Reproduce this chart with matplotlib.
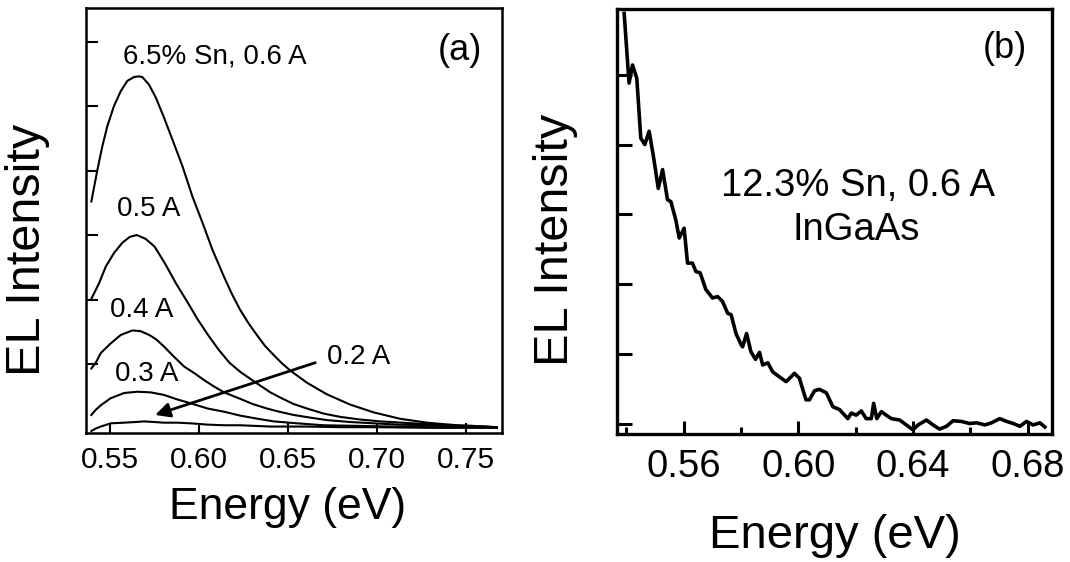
import matplotlib
matplotlib.use("Agg")
import matplotlib.pyplot as plt
from matplotlib.ticker import FormatStrFormatter

plt.rcParams['font.family'] = ['Liberation Sans', 'DejaVu Sans']

# ---------------- (a) 6.5% Sn, EL spectra at several drive currents ----------------
e_06 = [0.5395, 0.5429, 0.5457, 0.5485, 0.5522, 0.5560, 0.5597, 0.5635, 0.5660, 0.5681,
        0.5719, 0.5757, 0.5803, 0.5850, 0.5906, 0.5962, 0.6019, 0.6075, 0.6140, 0.6185,
        0.6230, 0.6280, 0.6324, 0.6370, 0.6418, 0.6465, 0.6511, 0.6605, 0.6717, 0.6848,
        0.6979, 0.7129, 0.7279, 0.7448, 0.7670]
i_06 = [3.52, 4.01, 4.38, 4.69, 5.00, 5.23, 5.39, 5.45, 5.46, 5.45,
        5.33, 5.13, 4.82, 4.48, 4.07, 3.60, 3.19, 2.77, 2.35, 2.08,
        1.84, 1.62, 1.45, 1.28, 1.14, 1.01, 0.90, 0.71, 0.53, 0.37,
        0.25, 0.15, 0.09, 0.05, 0.02]

e_05 = [0.5395, 0.5438, 0.5476, 0.5522, 0.5569, 0.5610, 0.5650, 0.5700, 0.5750, 0.5810,
        0.5870, 0.5930, 0.5990, 0.6050, 0.6110, 0.6170, 0.6230, 0.6324, 0.6400, 0.6455,
        0.6530, 0.6605, 0.6700, 0.6792, 0.6900, 0.7017, 0.7140, 0.7260, 0.7400, 0.7540,
        0.7670]
i_05 = [2.01, 2.25, 2.51, 2.72, 2.88, 2.97, 3.00, 2.94, 2.82, 2.55,
        2.25, 1.98, 1.70, 1.45, 1.22, 1.02, 0.88, 0.70, 0.56, 0.48,
        0.38, 0.31, 0.23, 0.18, 0.14, 0.11, 0.09, 0.07, 0.05, 0.04,
        0.02]

e_04 = [0.5395, 0.5420, 0.5448, 0.5504, 0.5560, 0.5625, 0.5670, 0.5720, 0.5760, 0.5803,
        0.5860, 0.5916, 0.5972, 0.6028, 0.6084, 0.6140, 0.6230, 0.6300, 0.6380, 0.6450,
        0.6530, 0.6620, 0.6717, 0.6850, 0.6979, 0.7120, 0.7260, 0.7400, 0.7540, 0.7670]
i_04 = [0.93, 1.02, 1.17, 1.32, 1.45, 1.52, 1.51, 1.45, 1.38, 1.27,
        1.11, 0.96, 0.86, 0.75, 0.65, 0.56, 0.46, 0.38, 0.31, 0.26,
        0.21, 0.17, 0.13, 0.10, 0.08, 0.06, 0.05, 0.04, 0.03, 0.02]

e_03 = [0.5395, 0.5420, 0.5448, 0.5504, 0.5579, 0.5653, 0.5728, 0.5803, 0.5878, 0.5953,
        0.6047, 0.6140, 0.6230, 0.6330, 0.6418, 0.6550, 0.6700, 0.6900, 0.7073, 0.7300,
        0.7540, 0.7670]
i_03 = [0.21, 0.29, 0.36, 0.47, 0.55, 0.57, 0.56, 0.52, 0.45, 0.39,
        0.31, 0.26, 0.20, 0.15, 0.11, 0.08, 0.05, 0.04, 0.03, 0.02,
        0.02, 0.01]

e_02 = [0.5395, 0.5420, 0.5448, 0.5504, 0.5579, 0.5640, 0.5691, 0.5750, 0.5803, 0.5878,
        0.5953, 0.6047, 0.6140, 0.6230, 0.6400, 0.6600, 0.6800, 0.7000, 0.7300, 0.7670]
i_02 = [-0.04, 0.00, 0.03, 0.08, 0.09, 0.10, 0.11, 0.10, 0.09, 0.09,
        0.08, 0.06, 0.05, 0.05, 0.03, 0.03, 0.02, 0.02, 0.01, 0.01]

ticks_a = [0.55, 0.60, 0.65, 0.70, 0.75]

# ---------------- (b) 12.3% Sn, InGaAs, 0.6 A ----------------
e_b = [0.5393, 0.5410, 0.5422, 0.5437, 0.5451, 0.5465, 0.5480, 0.5495, 0.5512, 0.5527,
       0.5544, 0.5556, 0.5573, 0.5585, 0.5602, 0.5614, 0.5631, 0.5643, 0.5658, 0.5678,
       0.5701, 0.5719, 0.5736, 0.5754, 0.5766, 0.5783, 0.5801, 0.5806, 0.5820, 0.5835,
       0.5851, 0.5865, 0.5876, 0.5894, 0.5911, 0.5934, 0.5958, 0.5987, 0.6004, 0.6027,
       0.6039, 0.6057, 0.6074, 0.6098, 0.6121, 0.6144, 0.6173, 0.6185, 0.6202, 0.6220,
       0.6237, 0.6255, 0.6263, 0.6274, 0.6290, 0.6307, 0.6325, 0.6354, 0.6377, 0.6400,
       0.6418, 0.6447, 0.6470, 0.6493, 0.6517, 0.6540, 0.6569, 0.6598, 0.6622, 0.6651,
       0.6674, 0.6703, 0.6727, 0.6750, 0.6773, 0.6796, 0.6819, 0.6843, 0.6860]
i_b = [5.88, 4.88, 5.14, 4.95, 4.09, 4.00, 4.19, 3.83, 3.37, 3.64,
       3.21, 3.18, 2.92, 2.66, 2.80, 2.30, 2.30, 2.18, 2.16, 1.92,
       1.80, 1.82, 1.75, 1.58, 1.56, 1.29, 1.13, 1.10, 1.29, 1.03,
       0.92, 1.02, 0.84, 0.87, 0.74, 0.67, 0.60, 0.72, 0.65, 0.34,
       0.34, 0.47, 0.49, 0.44, 0.24, 0.20, 0.07, 0.15, 0.12, 0.18,
       0.07, 0.07, 0.29, 0.07, 0.17, 0.12, 0.07, 0.05, -0.02, -0.09,
       -0.02, 0.05, -0.02, -0.08, -0.04, 0.04, 0.03, 0.00, 0.01, -0.02,
       0.01, 0.07, 0.03, 0.00, -0.04, 0.03, -0.02, 0.01, -0.05]

ticks_b = [0.56, 0.60, 0.64, 0.68]
minor_b = [0.54, 0.58, 0.62, 0.66]

fig = plt.figure(figsize=(10.70, 5.62), dpi=100)
W, H = 1070.0, 562.0

# ---- panel (a)
ax = fig.add_axes([86 / W, 1 - 433 / H, (502 - 86) / W, (433 - 8) / H])
lw = 1.5
for e, i in [(e_06, i_06), (e_05, i_05), (e_04, i_04), (e_03, i_03), (e_02, i_02)]:
    ax.plot(e, i, color='black', lw=lw)

ax.set_xlim(0.5365, 0.7700)
ax.set_ylim(-0.07, 6.52)
ax.set_xticks(ticks_a)
ax.xaxis.set_major_formatter(FormatStrFormatter('%.2f'))
ax.set_yticks([1, 2, 3, 4, 5, 6])
ax.set_yticklabels([])
ax.tick_params(axis='x', direction='in', length=7, width=1.5, labelsize=21.5, pad=9)
ax.tick_params(axis='y', direction='in', length=8.5, width=1.5)
for s in ax.spines.values():
    s.set_linewidth(1.8)

ax.set_xlabel('Energy (eV)', fontsize=32)
ax.xaxis.set_label_coords(0.484, -0.128)
ax.set_ylabel('EL Intensity', fontsize=35)
ax.yaxis.set_label_coords(-0.087, 0.43)

ax.text(0.5575, 5.77, '6.5% Sn, 0.6 A', fontsize=20, ha='left', va='center')
ax.text(0.5539, 3.41, '0.5 A', fontsize=20, ha='left', va='center')
ax.text(0.5500, 1.83, '0.4 A', fontsize=20, ha='left', va='center')
ax.text(0.5528, 0.85, '0.3 A', fontsize=20, ha='left', va='center')
ax.text(0.6720, 1.11, '0.2 A', fontsize=20, ha='left', va='center')
ax.annotate('', xy=(0.5753, 0.21), xytext=(0.6652, 1.02),
            arrowprops=dict(arrowstyle='-|>', color='black', lw=2.0,
                            mutation_scale=22, shrinkA=0, shrinkB=0))
ax.text(0.952, 0.90, '(a)', transform=ax.transAxes, fontsize=26,
        ha='right', va='center')

# ---- panel (b)
bx = fig.add_axes([617 / W, 1 - 433.5 / H, (1052 - 617) / W, (433.5 - 8.5) / H])
bx.plot(e_b, i_b, color='black', lw=2.6)
bx.set_xlim(0.5368, 0.6885)
bx.set_ylim(-0.143, 5.95)
bx.set_xticks(ticks_b)
bx.set_xticks(minor_b, minor=True)
bx.xaxis.set_major_formatter(FormatStrFormatter('%.2f'))
bx.set_yticks([0, 1, 2, 3, 4, 5])
bx.set_yticklabels([])
bx.tick_params(axis='x', which='major', direction='in', length=9.5, width=2.2,
               labelsize=27.5, pad=11)
bx.tick_params(axis='x', which='minor', direction='in', length=5, width=2.2)
bx.tick_params(axis='y', direction='in', length=11, width=2.2)
for s in bx.spines.values():
    s.set_linewidth(2.4)

bx.set_xlabel('Energy (eV)', fontsize=34)
bx.xaxis.set_label_coords(0.500, -0.19)
bx.set_ylabel('EL Intensity', fontsize=35)
bx.yaxis.set_label_coords(-0.089, 0.455)

bx.text(0.553, 0.583, '12.3% Sn, 0.6 A', transform=bx.transAxes, fontsize=27.5,
        ha='center', va='center')
bx.text(0.550, 0.479, 'InGaAs', transform=bx.transAxes, fontsize=27.5,
        ha='center', va='center')
bx.text(0.943, 0.906, '(b)', transform=bx.transAxes, fontsize=26,
        ha='right', va='center')

fig.savefig('out.png', dpi=100, facecolor='white')
